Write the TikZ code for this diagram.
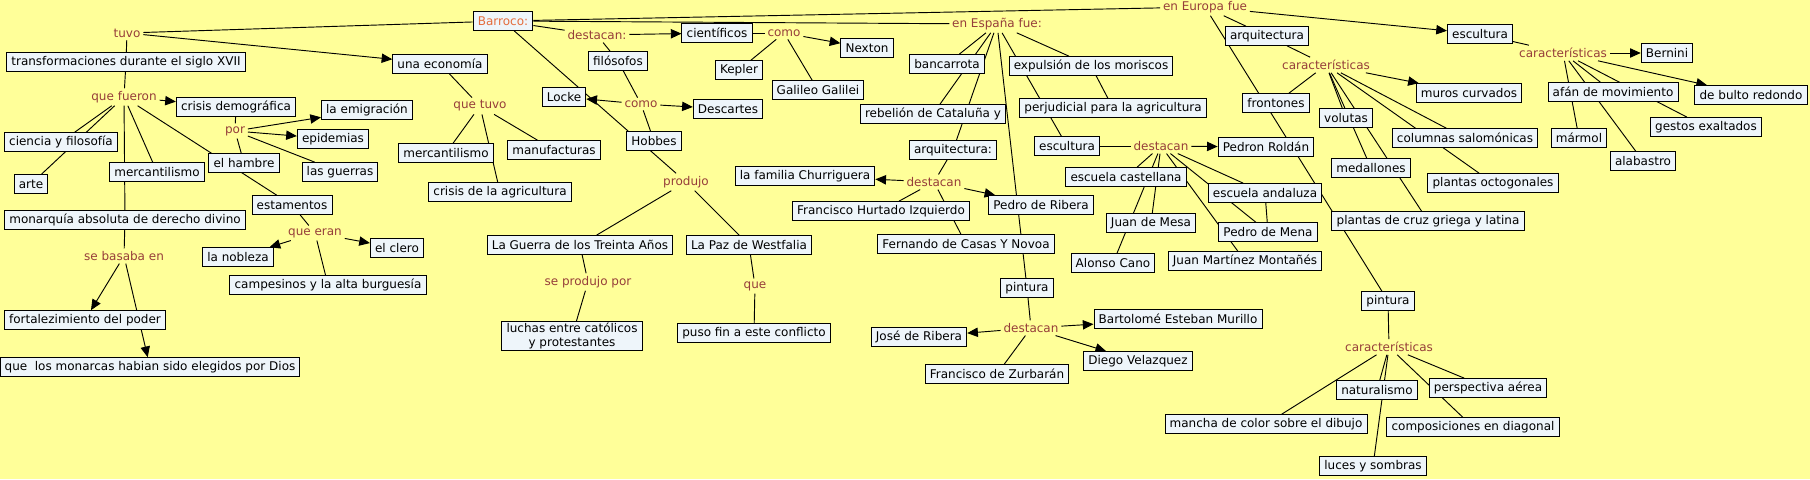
\documentclass[tikz,border=0pt]{standalone}
\usepackage{fontspec}
\setmainfont{DejaVu Sans}
\usetikzlibrary{arrows.meta}

\definecolor{bgyellow}{RGB}{255,255,153}
\definecolor{cptfill}{RGB}{238,245,250}
\definecolor{lnktext}{RGB}{150,62,58}
\definecolor{rootorange}{RGB}{228,108,60}

\pgfdeclarelayer{back}
\pgfdeclarelayer{links}
\pgfsetlayers{back,links,main}

\begin{document}
\begin{tikzpicture}[x=0.75pt,y=-0.75pt,
	every node/.style={font=\fontsize{9pt}{10.8pt}\selectfont},
	cpt/.style={draw,line width=0.75pt,fill=cptfill,inner xsep=3.5pt,inner ysep=1pt,minimum height=14pt,align=center},
	lnk/.style={text=lnktext,inner sep=2pt},
	link/.style={line width=0.7pt},
	arr/.style={link,-{Triangle[length=8pt,width=7pt]}}]
	\useasboundingbox (0,0) rectangle (1810,479);

	% concepts
	\node[cpt,text=rootorange] (barroco) at (503,21) {Barroco:};
	\node[cpt] (transf) at (126,62) {transformaciones durante el siglo XVII};
	\node[cpt] (economia) at (440,64) {una economía};
	\node[cpt] (crisis-demo) at (236,107) {crisis demográfica};
	\node[cpt] (ciencia) at (61,142) {ciencia y filosofía};
	\node[cpt] (arte) at (31,184) {arte};
	\node[cpt] (mercant-a) at (157,172) {mercantilismo};
	\node[cpt] (hambre) at (244,163) {el hambre};
	\node[cpt] (emigracion) at (367,110) {la emigración};
	\node[cpt] (epidemias) at (333,139) {epidemias};
	\node[cpt] (guerras) at (340,172) {las guerras};
	\node[cpt] (monarquia) at (125,220) {monarquía absoluta de derecho divino};
	\node[cpt] (estamentos) at (292,205) {estamentos};
	\node[cpt] (nobleza) at (238,257) {la nobleza};
	\node[cpt] (clero) at (397,248) {el clero};
	\node[cpt] (campesinos) at (328,285) {campesinos y la alta burguesía};
	\node[cpt] (fortal) at (85,320) {fortalezimiento del poder};
	\node[cpt] (monarcas) at (150,367) {que\ \ los monarcas habian sido elegidos por Dios};
	\node[cpt] (mercant-b) at (446,153) {mercantilismo};
	\node[cpt] (manuf) at (554,150) {manufacturas};
	\node[cpt] (crisis-agri) at (500,192) {crisis de la agricultura};
	\node[cpt] (locke) at (564,97) {Locke};
	\node[cpt] (filosofos) at (618,61) {filósofos};
	\node[cpt] (cientificos) at (717,33) {científicos};
	\node[cpt] (nexton) at (867,48) {Nexton};
	\node[cpt] (kepler) at (739,70) {Kepler};
	\node[cpt] (galileo) at (818,90) {Galileo Galilei};
	\node[cpt] (descartes) at (728,109) {Descartes};
	\node[cpt] (hobbes) at (654,141) {Hobbes};
	\node[cpt] (guerra) at (580,245) {La Guerra de los Treinta Años};
	\node[cpt] (paz) at (749,245) {La Paz de Westfalia};
	\node[cpt] (luchas) at (572,336) {luchas entre católicos\\y protestantes};
	\node[cpt] (puso) at (754,333) {puso fin a este conflicto};
	\node[cpt] (bancarrota) at (947,64) {bancarrota};
	\node[cpt] (expulsion) at (1091,66) {expulsión de los moriscos};
	\node[cpt] (rebelion) at (933,114) {rebelión de Cataluña y};
	\node[cpt] (perjudicial) at (1113,108) {perjudicial para la agricultura};
	\node[cpt] (arq-es) at (953,150) {arquitectura:};
	\node[cpt] (esc-es) at (1067,146) {escultura};
	\node[cpt] (churriguera) at (805,176) {la familia Churriguera};
	\node[cpt] (hurtado) at (881,211) {Francisco Hurtado Izquierdo};
	\node[cpt] (ribera-p) at (1041,205) {Pedro de Ribera};
	\node[cpt] (casas) at (966,244) {Fernando de Casas Y Novoa};
	\node[cpt] (castellana) at (1126,177) {escuela castellana};
	\node[cpt] (mesa) at (1151,223) {Juan de Mesa};
	\node[cpt] (cano) at (1113,263) {Alonso Cano};
	\node[cpt] (montanes) at (1245,261) {Juan Martínez Montañés};
	\node[cpt] (roldan) at (1266,147) {Pedron Roldán};
	\node[cpt] (andaluza) at (1265,193) {escuela andaluza};
	\node[cpt] (mena) at (1268,232) {Pedro de Mena};
	\node[cpt] (pint-es) at (1027,288) {pintura};
	\node[cpt] (ribera-j) at (919,337) {José de Ribera};
	\node[cpt] (murillo) at (1178,319) {Bartolomé Esteban Murillo};
	\node[cpt] (velazquez) at (1138,361) {Diego Velazquez};
	\node[cpt] (zurbaran) at (997,374) {Francisco de Zurbarán};
	\node[cpt] (arq-eu) at (1267,36) {arquitectura};
	\node[cpt] (esc-eu) at (1480,34) {escultura};
	\node[cpt] (muros) at (1469,93) {muros curvados};
	\node[cpt] (frontones) at (1276,103) {frontones};
	\node[cpt] (volutas) at (1346,118) {volutas};
	\node[cpt] (columnas) at (1465,138) {columnas salomónicas};
	\node[cpt] (medallones) at (1371,168) {medallones};
	\node[cpt] (octogonales) at (1493,183) {plantas octogonales};
	\node[cpt] (cruz) at (1428,221) {plantas de cruz griega y latina};
	\node[cpt] (bernini) at (1667,53) {Bernini};
	\node[cpt] (bulto) at (1751,95) {de bulto redondo};
	\node[cpt] (afan) at (1613,92) {afán de movimiento};
	\node[cpt] (gestos) at (1706,127) {gestos exaltados};
	\node[cpt] (marmol) at (1579,138) {mármol};
	\node[cpt] (alabastro) at (1643,161) {alabastro};
	\node[cpt] (pint-eu) at (1388,301) {pintura};
	\node[cpt] (naturalismo) at (1377,390) {naturalismo};
	\node[cpt] (perspectiva) at (1488,388) {perspectiva aérea};
	\node[cpt] (mancha) at (1266,424) {mancha de color sobre el dibujo};
	\node[cpt] (composiciones) at (1473,427) {composiciones en diagonal};
	\node[cpt] (luces) at (1373,466) {luces y sombras};

	% linking phrases
	\node[lnk] (tuvo) at (127,33) {tuvo};
	\node[lnk] (que-fueron) at (124,97) {que fueron};
	\node[lnk] (por) at (235,131) {por};
	\node[lnk] (que-eran) at (315,233) {que eran};
	\node[lnk] (se-basaba) at (124,256) {se basaba en};
	\node[lnk] (que-tuvo) at (480,106) {que tuvo};
	\node[lnk] (destacan-b) at (597,35) {destacan:};
	\node[lnk] (como-a) at (784,33) {como};
	\node[lnk] (como-b) at (641,104) {como};
	\node[lnk] (produjo) at (686,182) {produjo};
	\node[lnk] (se-produjo) at (588,282) {se produjo por};
	\node[lnk] (que) at (755,286) {que};
	\node[lnk] (espana) at (997,24) {en España fue:};
	\node[lnk] (europa) at (1205,7) {en Europa fue};
	\node[lnk] (destacan-arq) at (934,182) {destacan};
	\node[lnk] (destacan-esc) at (1161,146) {destacan};
	\node[lnk] (destacan-pint) at (1031,328) {destacan};
	\node[lnk] (caract-arq) at (1326,65) {características};
	\node[lnk] (caract-esc) at (1563,53) {características};
	\node[lnk] (caract-pint) at (1389,347) {características};

	\begin{pgfonlayer}{back}
		\fill[bgyellow] (0,0) rectangle (1810,479);
	\end{pgfonlayer}

	\begin{pgfonlayer}{links}
		% left part
		\draw[link] (barroco) -- (tuvo);
		\draw[link] (tuvo) -- (transf);
		\draw[arr] (tuvo) -- (economia);
		\draw[link] (transf) -- (que-fueron);
		\draw[arr] (que-fueron) -- (crisis-demo);
		\foreach \t in {ciencia,arte,mercant-a,monarquia,estamentos}
			\draw[link] (que-fueron) -- (\t);
		\draw[link] (crisis-demo) -- (por);
		\draw[arr] (por) -- (emigracion);
		\draw[arr] (por) -- (epidemias);
		\draw[link] (por) -- (guerras);
		\draw[link] (por) -- (hambre);
		\draw[link] (estamentos) -- (que-eran);
		\draw[arr] (que-eran) -- (nobleza);
		\draw[arr] (que-eran) -- (clero);
		\draw[link] (que-eran) -- (campesinos);
		\draw[link] (monarquia) -- (se-basaba);
		\draw[arr] (se-basaba) -- (fortal);
		\draw[arr] (se-basaba) -- (monarcas);
		\draw[link] (economia) -- (que-tuvo);
		\foreach \t in {mercant-b,manuf,crisis-agri}
			\draw[link] (que-tuvo) -- (\t);
		% thinkers and wars
		\draw[link] (barroco) -- (destacan-b);
		\draw[arr] (destacan-b) -- (cientificos);
		\draw[link] (destacan-b) -- (filosofos);
		\draw[link] (cientificos) -- (como-a);
		\draw[link] (como-a) -- (kepler);
		\draw[link] (como-a) -- (galileo);
		\draw[arr] (como-a) -- (nexton);
		\draw[link] (filosofos) -- (como-b);
		\draw[arr] (como-b) -- (locke);
		\draw[arr] (como-b) -- (descartes);
		\draw[link] (como-b) -- (hobbes);
		\draw[link] (barroco) -- (produjo);
		\draw[link] (produjo) -- (guerra);
		\draw[link] (produjo) -- (paz);
		\draw[link] (guerra) -- (se-produjo) -- (luchas);
		\draw[link] (paz) -- (que) -- (puso);
		% Spain
		\draw[link] (barroco) -- (espana);
		\draw[link] (barroco) -- (europa);
		\foreach \t in {bancarrota,rebelion,arq-es,pint-es,expulsion,esc-es}
			\draw[link] (espana) -- (\t);
		\draw[link] (expulsion) -- (perjudicial);
		\draw[link] (arq-es) -- (destacan-arq);
		\draw[arr] (destacan-arq) -- (churriguera);
		\draw[arr] (destacan-arq) -- (ribera-p);
		\draw[link] (destacan-arq) -- (hurtado);
		\draw[link] (destacan-arq) -- (casas);
		\draw[link] (esc-es) -- (destacan-esc);
		\draw[arr] (destacan-esc) -- (roldan);
		\foreach \t in {castellana,mesa,cano,andaluza,mena,montanes}
			\draw[link] (destacan-esc) -- (\t);
		\draw[link] (andaluza) -- (mena);
		\draw[link] (pint-es) -- (destacan-pint);
		\draw[arr] (destacan-pint) -- (ribera-j);
		\draw[arr] (destacan-pint) -- (murillo);
		\draw[arr] (destacan-pint) -- (velazquez);
		\draw[link] (destacan-pint) -- (zurbaran);
		% Europe
		\draw[link] (europa) -- (arq-eu);
		\draw[arr] (europa) -- (esc-eu);
		\draw[link] (europa) -- (pint-eu);
		\draw[link] (arq-eu) -- (caract-arq);
		\draw[arr] (caract-arq) -- (muros);
		\foreach \t in {frontones,volutas,medallones,cruz,columnas,octogonales}
			\draw[link] (caract-arq) -- (\t);
		\draw[link] (esc-eu) -- (caract-esc);
		\draw[arr] (caract-esc) -- (bernini);
		\draw[arr] (caract-esc) -- (bulto);
		\foreach \t in {afan,marmol,alabastro,gestos}
			\draw[link] (caract-esc) -- (\t);
		\draw[link] (pint-eu) -- (caract-pint);
		\foreach \t in {mancha,naturalismo,luces,perspectiva,composiciones}
			\draw[link] (caract-pint) -- (\t);
	\end{pgfonlayer}
\end{tikzpicture}
\end{document}
